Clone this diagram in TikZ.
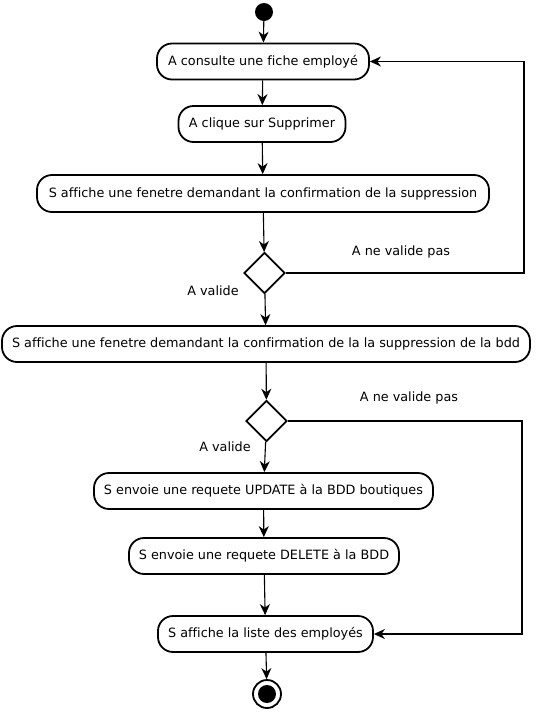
\documentclass[tikz,border=0pt]{standalone}
\usepackage{fontspec}
\setmainfont[Ligatures={NoCommon}]{DejaVu Sans}
\usetikzlibrary{arrows.meta,shapes.geometric}
\begin{document}
\begin{tikzpicture}[x=1pt,y=-1pt,
  act/.style={draw,line width=1.8pt,rounded corners=15pt,minimum height=36pt,inner sep=0pt,font=\fontsize{12.8}{14}\selectfont},
  dec/.style={draw,diamond,line width=1.8pt,minimum width=41pt,minimum height=41pt,inner sep=0pt},
  lbl/.style={font=\fontsize{12.8}{14}\selectfont,inner sep=0pt},
  flow/.style={line width=1.1pt,-{Stealth[length=11pt,width=10pt,inset=3.5pt]}}]
\useasboundingbox (0,0) rectangle (537,713);
\node[circle,fill=black,minimum size=18pt,inner sep=0pt] (start) at (264,12) {};
\node[act,minimum width=212pt] (n1) at (263,61.5) {A consulte une fiche employé};
\node[act,minimum width=167pt] (n2) at (262,124) {A clique sur Supprimer};
\node[act,minimum width=452pt,minimum height=37pt] (n3) at (263,193.5) {S affiche une fenetre demandant la confirmation de la suppression};
\node[dec] (d1) at (264.5,273) {};
\node[act,minimum width=528pt] (n4) at (266,344) {S affiche une fenetre demandant la confirmation de la la suppression de la bdd};
\node[dec] (d2) at (266.5,421) {};
\node[act,minimum width=339pt] (n5) at (263.5,491) {S envoie une requete UPDATE à la BDD boutiques};
\node[act,minimum width=270pt] (n6) at (264,556) {S envoie une requete DELETE à la BDD};
\node[act,minimum width=215pt] (n7) at (265.5,634) {S affiche la liste des employés};
\node[circle,draw,line width=1.8pt,minimum size=28pt,inner sep=0pt] (fin) at (267,694) {};
\node[circle,fill=black,minimum size=18pt,inner sep=0pt] at (fin) {};
\node[lbl] (l1) at (401,252) {A ne valide pas};
\node[lbl] (l2) at (213,291) {A valide};
\node[lbl] (l3) at (409,398) {A ne valide pas};
\node[lbl] (l4) at (225,447) {A valide};
\coordinate (c1) at (524,273);
\coordinate (c2) at (522,421);
\draw[flow] (start) -- (n1);
\draw[flow] (n1) -- (n2);
\draw[flow] (n2) -- (n3);
\draw[flow] (n3) -- (d1);
\draw[flow] (d1.east) -- (c1) |- (n1.east);
\draw[flow] (d1) -- (n4);
\draw[flow] (n4) -- (d2);
\draw[flow] (d2) -- (n5);
\draw[flow] (d2.east) -- (c2) |- (n7.east);
\draw[flow] (n5) -- (n6);
\draw[flow] (n6) -- (n7);
\draw[flow] (n7) -- (fin);
\end{tikzpicture}
\end{document}
